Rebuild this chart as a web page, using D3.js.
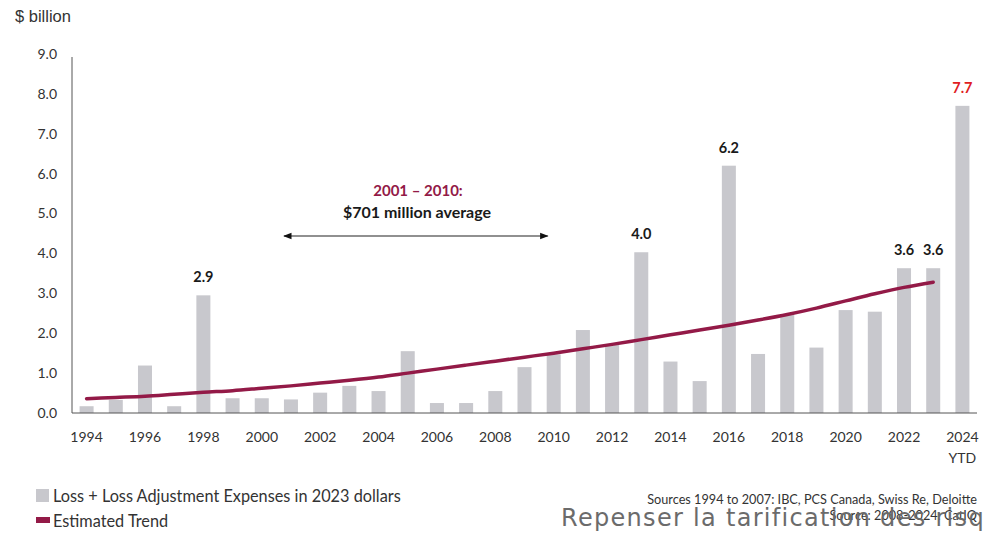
<!DOCTYPE html>
<html>
<head>
<meta charset="utf-8">
<script src="https://cdn.jsdelivr.net/npm/d3@7"></script>
<style>
    body { margin: 0; background: #fff; }
    svg { display: block; }
    .tick-label { font-family: Lato, "Open Sans", sans-serif; font-size: 14px; fill: #333; }
    .value-label { font-family: Lato, "Open Sans", sans-serif; font-size: 14.5px; font-weight: 700; fill: #1a1a1a; }
    .legend-label { font-family: Lato, "Open Sans", sans-serif; font-size: 16.3px; fill: #333; }
    .source-label { font-family: Lato, "Open Sans", sans-serif; font-size: 12.7px; fill: #333; }
</style>
</head>
<body>
<div id="chart"></div>
<script>
// Canadian insured catastrophe losses, $ billion (2023 dollars)

const years = d3.range(1994, 2025);
const tickYears = d3.range(1994, 2025, 2);
const losses = [0.17, 0.33, 1.19, 0.17, 2.95, 0.37, 0.37, 0.34, 0.51, 0.68,
    0.55, 1.55, 0.25, 0.25, 0.55, 1.15, 1.47, 2.08, 1.72, 4.03,
    1.29, 0.8, 6.2, 1.48, 2.48, 1.64, 2.58, 2.54, 3.63, 3.63, 7.7];
const trendYears = d3.range(1994, 2024);
const trend = [0.36, 0.39, 0.42, 0.47, 0.52, 0.56, 0.62, 0.68, 0.75, 0.82,
    0.9, 1.0, 1.1, 1.2, 1.3, 1.4, 1.5, 1.61, 1.72, 1.84,
    1.96, 2.08, 2.2, 2.33, 2.47, 2.63, 2.81, 2.99, 3.15, 3.28];
const labelYears = [1998, 2013, 2016, 2022, 2023, 2024];
const labelTexts = ["2.9", "4.0", "6.2", "3.6", "3.6", "7.7"];
const yTicks = d3.range(0, 10);

const WIDTH = 986;
const HEIGHT = 534;
const BAR_COLOR = "#c8c8cd";
const TREND_COLOR = "#931a47";
const FONT = "Lato, 'Open Sans', sans-serif";

const svg = d3.select("#chart").append("svg")
    .attr("width", WIDTH)
    .attr("height", HEIGHT);

const x = d3.scaleBand()
    .domain(years)
    .range([72, 977])
    .paddingInner(0.52)
    .paddingOuter(0.26);

const y = d3.scaleLinear()
    .domain([0, 9])
    .range([413, 54]);

const cx = yr => x(yr) + x.bandwidth() / 2;

// axis title
svg.append("text")
    .attr("x", 15)
    .attr("y", 22)
    .style("font-family", "'Liberation Sans', Arial, sans-serif")
    .style("font-size", "16.5px")
    .style("fill", "#333")
    .text("$ billion");

// y tick labels
svg.append("g")
    .selectAll("text")
    .data(yTicks)
    .join("text")
    .attr("class", "tick-label")
    .attr("x", 57)
    .attr("y", d => y(d))
    .attr("dy", "0.35em")
    .attr("text-anchor", "end")
    .text(d => d3.format(".1f")(d));

// bars
svg.append("g")
    .selectAll("rect")
    .data(years)
    .join("rect")
    .attr("x", d => x(d))
    .attr("width", x.bandwidth())
    .attr("y", (d, i) => y(losses[i]))
    .attr("height", (d, i) => y(0) - y(losses[i]))
    .attr("fill", BAR_COLOR);

// axes lines
svg.append("line")
    .attr("x1", 72).attr("x2", 72)
    .attr("y1", y(9) + 3).attr("y2", y(0))
    .attr("stroke", "#555").attr("stroke-width", 1);
svg.append("line")
    .attr("x1", 72).attr("x2", 977)
    .attr("y1", y(0)).attr("y2", y(0))
    .attr("stroke", "#555").attr("stroke-width", 1);

// x tick labels
svg.append("g")
    .selectAll("text")
    .data(tickYears)
    .join("text")
    .attr("class", "tick-label")
    .attr("x", d => cx(d))
    .attr("y", 442)
    .attr("text-anchor", "middle")
    .text(d => d);

svg.append("text")
    .attr("class", "tick-label")
    .attr("x", cx(2024))
    .attr("y", 463)
    .attr("text-anchor", "middle")
    .text("YTD");

// trend line
const line = d3.line()
    .x((d, i) => cx(trendYears[i]))
    .y(d => y(d))
    .curve(d3.curveMonotoneX);

svg.append("path")
    .datum(trend)
    .attr("d", line)
    .attr("fill", "none")
    .attr("stroke", TREND_COLOR)
    .attr("stroke-width", 3.5)
    .attr("stroke-linecap", "round");

// value labels
svg.append("g")
    .selectAll("text")
    .data(labelYears)
    .join("text")
    .attr("class", "value-label")
    .attr("x", d => cx(d))
    .attr("y", d => y(losses[years.indexOf(d)]) - 13)
    .attr("text-anchor", "middle")
    .style("fill", d => d === 2024 ? "#e0201e" : null)
    .text((d, i) => labelTexts[i]);

// 2001-2010 annotation
svg.append("defs").append("marker")
    .attr("id", "arrow")
    .attr("viewBox", "0 0 10 10")
    .attr("refX", 9).attr("refY", 5)
    .attr("markerWidth", 7).attr("markerHeight", 7)
    .attr("orient", "auto-start-reverse")
    .append("path")
    .attr("d", "M0,1 L10,5 L0,9 Z")
    .attr("fill", "#111");

svg.append("line")
    .attr("x1", cx(2001) - 7).attr("x2", cx(2010) - 6)
    .attr("y1", 236).attr("y2", 236)
    .attr("stroke", "#222").attr("stroke-width", 1.2)
    .attr("marker-start", "url(#arrow)")
    .attr("marker-end", "url(#arrow)");

svg.append("text")
    .attr("x", 418).attr("y", 196)
    .attr("text-anchor", "middle")
    .style("font-family", FONT).style("font-size", "15px").style("font-weight", 700)
    .style("fill", TREND_COLOR)
    .text("2001 – 2010:");

svg.append("text")
    .attr("x", 417).attr("y", 218)
    .attr("text-anchor", "middle")
    .style("font-family", FONT).style("font-size", "16px").style("font-weight", 700)
    .style("fill", "#1a1a1a")
    .text("$701 million average");

// legend
svg.append("rect")
    .attr("x", 36).attr("y", 489)
    .attr("width", 13).attr("height", 13)
    .attr("fill", BAR_COLOR);
svg.append("text")
    .attr("class", "legend-label")
    .attr("x", 53).attr("y", 502)
    .text("Loss + Loss Adjustment Expenses in 2023 dollars");

svg.append("rect")
    .attr("x", 36).attr("y", 517)
    .attr("width", 14).attr("height", 6)
    .attr("fill", TREND_COLOR);
svg.append("text")
    .attr("class", "legend-label")
    .attr("x", 53).attr("y", 527)
    .text("Estimated Trend");

// sources
svg.append("text")
    .attr("class", "source-label")
    .attr("x", 977).attr("y", 504)
    .attr("text-anchor", "end")
    .text("Sources 1994 to 2007: IBC, PCS Canada, Swiss Re, Deloitte");
svg.append("text")
    .attr("class", "source-label")
    .attr("x", 977).attr("y", 520)
    .attr("text-anchor", "end")
    .text("Source: 2008-2024: CatIQ");

// overlaid caption
svg.append("text")
    .attr("x", 561).attr("y", 526)
    .style("font-family", "'DejaVu Sans', sans-serif")
    .style("font-size", "24px")
    .style("letter-spacing", "1.3px")
    .style("fill", "#6b6b6b")
    .text("Repenser la tarification des risques");
</script>
</body>
</html>
